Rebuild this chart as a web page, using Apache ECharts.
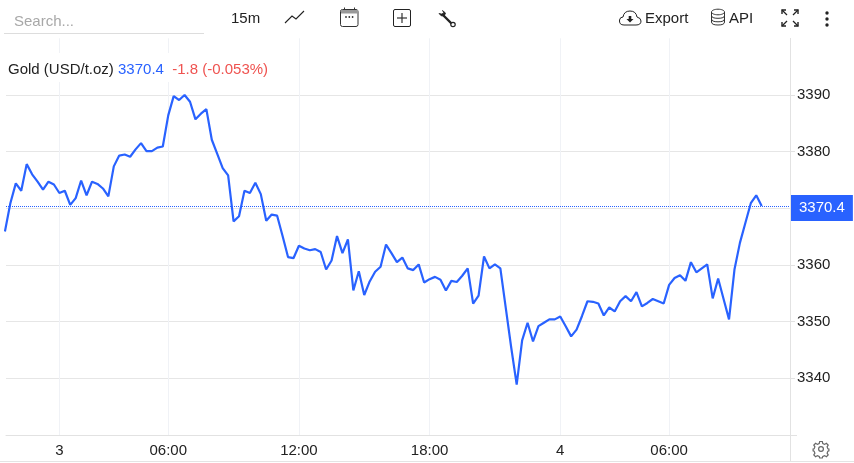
<!DOCTYPE html>
<html>
<head>
<meta charset="utf-8">
<style>html,body{margin:0;padding:0;background:#fff}#c{width:854px;height:463px}</style>
<script src="https://cdn.jsdelivr.net/npm/echarts@6/dist/echarts.min.js"></script>
</head>
<body>
<div id="c"></div>
<script>
const prices = [3365.9,3370.9,3374.4,3373.1,3377.8,3376.0,3374.7,3373.3,3374.7,3374.2,
3372.7,3373.1,3370.6,3371.8,3374.9,3372.3,3374.7,3374.3,3373.5,3372.1,
3377.4,3379.3,3379.5,3379.1,3380.4,3381.5,3380.1,3380.1,3380.7,3380.9,
3386.4,3389.8,3389.1,3390.0,3388.8,3385.7,3386.7,3387.5,3382.1,3379.6,
3377.1,3375.8,3367.7,3368.6,3373.1,3372.7,3374.5,3372.5,3367.8,3368.9,
3368.7,3365.1,3361.4,3361.2,3363.4,3362.9,3362.6,3362.8,3362.3,3359.2,
3360.8,3365.1,3362.1,3364.5,3355.5,3358.9,3354.7,3357.1,3358.8,3359.7,
3363.6,3362.1,3360.5,3361.3,3359.4,3359.1,3360.1,3356.9,3357.5,3357.9,
3357.4,3355.5,3357.2,3357.0,3358.1,3359.4,3353.2,3354.6,3361.5,3359.4,
3360.1,3359.4,3352.4,3345.4,3338.9,3346.7,3349.8,3346.5,3349.2,3349.8,
3350.4,3350.4,3350.9,3349.2,3347.4,3348.6,3351.0,3353.6,3353.5,3353.2,
3351.1,3352.5,3351.8,3353.6,3354.5,3353.6,3355.2,3352.7,3353.3,3354.0,
3353.6,3353.2,3356.5,3357.7,3358.2,3357.2,3360.5,3358.7,3359.4,3360.1,
3354.1,3357.6,3354.0,3350.4,3359.2,3363.9,3367.4,3370.9,3372.3,3370.4];
const xTickIndex = [10,30,54,78,102,122];
const xTickLabels = ['3','06:00','12:00','18:00','4','06:00'];
const yTicks = [3340,3350,3360,3370,3380,3390];
const lastPrice = 3370.4;
const instrument = 'Gold (USD/t.oz)';
const priceText = '3370.4';
const changeText = '-1.8 (-0.053%)';

const FONT = '"Liberation Sans", Arial, sans-serif';
const INK = '#222';
const BLUE = '#2962ff';
const AXIS = '#e2e2e2';

function stroke(w, c) { return { stroke: c || INK, lineWidth: w || 1, fill: null }; }
function line(x1, y1, x2, y2, c, w) {
  return { type: 'line', silent: true, shape: { x1, y1, x2, y2 }, style: stroke(w, c) };
}
function poly(points, w, c) {
  return { type: 'polyline', silent: true, shape: { points }, style: stroke(w, c) };
}
function txt(x, y, text, color, size) {
  return { type: 'text', silent: true, x, y, style: { text, fill: color || INK,
    font: (size || 15) + 'px ' + FONT, verticalAlign: 'middle', align: 'left' } };
}
function dot(cx, cy, r, c) {
  return { type: 'circle', silent: true, shape: { cx, cy, r }, style: { fill: c || INK } };
}
let shapeCount = 0;
function svgPath(d, st) {
  const name = 'iconShape' + (++shapeCount);
  echarts.graphic.registerShape(name, echarts.graphic.extendPath(d, {}));
  return { type: name, silent: true, style: st };
}

const chrome = [
  // search box
  txt(14, 21.5, 'Search...', '#a8a8a8', 15),
  line(4, 33.5, 204, 33.5, '#dddddd'),
  txt(231, 18.5, '15m', INK, 15),
  // line-type icon
  poly([[285, 23], [292, 16], [296, 19], [304, 11]], 1.1),
  // calendar icon
  { type: 'rect', silent: true, shape: { x: 340.5, y: 9.5, width: 17.5, height: 17, r: 2 }, style: stroke(1, '#333') },
  { type: 'rect', silent: true, shape: { x: 341, y: 10, width: 17, height: 3.5 }, style: { fill: '#999' } },
  line(344.5, 7.5, 344.5, 10, '#333'), line(354.5, 7.5, 354.5, 10, '#333'),
  dot(346, 17, .9, '#333'), dot(349.3, 17, .9, '#333'), dot(352.6, 17, .9, '#333'),
  // plus-in-box icon
  { type: 'rect', silent: true, shape: { x: 393.5, y: 9.5, width: 17, height: 17, r: 1.5 }, style: stroke(1, '#222') },
  line(402, 13, 402, 23, '#333', 1.2), line(397, 18, 407, 18, '#333', 1.2),
  // wrench icon
  line(443, 15, 452, 24, '#222', 2.4),
  svgPath('M439 13.5 L441.5 16 L444.5 15.5 L445.5 13 L442.5 10.5 L444 13 L441.5 14 Z', { fill: '#222', stroke: '#222', lineWidth: .8 }),
  { type: 'circle', silent: true, shape: { cx: 453, cy: 24.5, r: 2.2 }, style: { fill: '#fff', stroke: '#222', lineWidth: 1.2 } },
  // export cloud
  svgPath('M624 25 Q619 25 619.5 20 Q620 17 623 17 Q624 11 630 11 Q636 11 637 17 Q641 18 641 21 Q641 25 636 25 Z', stroke(1, '#222')),
  svgPath('M628.7 16 H631.3 V19 H633.5 L630 22.5 L626.5 19 H628.7 Z', { fill: '#222' }),
  txt(645, 18.5, 'Export', INK, 15),
  // API database
  { type: 'ellipse', silent: true, shape: { cx: 718, cy: 12, rx: 6.5, ry: 2.8 }, style: stroke(1, '#333') },
  svgPath('M711.5 12 V22 Q711.5 25 718 25 Q724.5 25 724.5 22 V12', stroke(1, '#333')),
  svgPath('M711.5 15.5 Q711.5 18.3 718 18.3 Q724.5 18.3 724.5 15.5', stroke(1, '#333')),
  svgPath('M711.5 19 Q711.5 21.8 718 21.8 Q724.5 21.8 724.5 19', stroke(1, '#333')),
  txt(729, 18.5, 'API', INK, 15),
  // fullscreen arrows
  poly([[782, 14], [782, 10], [786, 10]], 1.4), line(782, 10, 787, 15, INK, 1.2),
  poly([[794, 10], [798, 10], [798, 14]], 1.4), line(798, 10, 793, 15, INK, 1.2),
  poly([[782, 22], [782, 26], [786, 26]], 1.4), line(782, 26, 787, 21, INK, 1.2),
  poly([[794, 26], [798, 26], [798, 22]], 1.4), line(798, 26, 793, 21, INK, 1.2),
  // menu dots
  dot(827, 13, 1.7), dot(827, 19, 1.7), dot(827, 25, 1.7),
  // instrument header
  { type: 'rect', silent: true, z: 90, shape: { x: 6, y: 53, width: 274, height: 29 }, style: { fill: '#fff' } },
  { type: 'text', silent: true, z: 100, x: 8, y: 69.5, style: {
    text: '{a|' + instrument + '} {b|' + priceText + '}  {c|' + changeText + '}',
    font: '15px ' + FONT, verticalAlign: 'middle',
    rich: { a: { fill: INK, font: '15px ' + FONT }, b: { fill: BLUE, font: '15px ' + FONT }, c: { fill: '#ef5350', font: '15px ' + FONT } }
  } },
  // frame bits
  line(790.5, 38, 790.5, 461, AXIS),
  line(790, 435.5, 797, 435.5, AXIS),
  line(0, 461.5, 854, 461.5, '#e4e4e4'),
  // settings gear
  { type: 'circle', silent: true, shape: { cx: 821, cy: 449, r: 2.4 }, style: stroke(1.2, '#666') },
  svgPath('M819.7 441.5 H822.3 L822.8 443.6 L824.6 444.4 L826.4 443.3 L828.2 445.1 L827.1 446.9 L827.9 448.7 L828.9 449 V450.9 L827.9 451.3 L827.1 453.1 L828.2 454.9 L826.4 456.7 L824.6 455.6 L822.8 456.4 L822.3 458 H819.7 L819.2 456.4 L817.4 455.6 L815.6 456.7 L813.8 454.9 L814.9 453.1 L814.1 451.3 L813.1 450.9 V449 L814.1 448.7 L814.9 446.9 L813.8 445.1 L815.6 443.3 L817.4 444.4 L819.2 443.6 Z', stroke(1.2, '#666'))
];

const chart = echarts.init(document.getElementById('c'), null, { renderer: 'canvas' });
chart.setOption({
  animation: false,
  backgroundColor: '#fff',
  grid: { left: 6, right: 64, top: 38.3, bottom: 28, containLabel: false },
  xAxis: {
    type: 'value', min: 0.2, max: 144.2,
    axisLine: { show: true, onZero: false, lineStyle: { color: AXIS } },
    axisTick: { show: false, customValues: xTickIndex },
    axisLabel: {
      customValues: xTickIndex, margin: 8, color: '#222', fontSize: 15, fontFamily: FONT,
      showMinLabel: true, showMaxLabel: true, hideOverlap: false,
      formatter: v => xTickLabels[xTickIndex.indexOf(v)]
    },
    splitLine: { show: true, lineStyle: { color: '#f0f2f6', width: 1 } }
  },
  yAxis: {
    type: 'value', position: 'right', min: 3330, max: 3400,
    axisLine: { show: false },
    axisTick: { show: true, length: 5, customValues: yTicks, lineStyle: { color: AXIS } },
    axisLabel: { customValues: yTicks, margin: 7, color: '#222', fontSize: 15, fontFamily: FONT, hideOverlap: false, formatter: v => String(v) },
    splitLine: { show: true, lineStyle: { color: '#e6e6e6', width: 1 } }
  },
  series: [{
    type: 'line',
    data: prices.map((v, i) => [i, v]),
    showSymbol: false,
    clip: true,
    lineStyle: { color: BLUE, width: 2.2 },
    itemStyle: { color: BLUE },
    markLine: {
      silent: true, symbol: 'none', animation: false,
      lineStyle: { color: BLUE, type: [1, 1], width: 1 },
      data: [{ yAxis: lastPrice }],
      label: {
        show: true, position: 'end', distance: 0,
        formatter: lastPrice.toFixed(1),
        color: '#fff', fontSize: 15, fontFamily: FONT,
        backgroundColor: BLUE, padding: [6, 8, 5, 8], offset: [1, 2]
      }
    }
  }],
  graphic: { elements: chrome }
});
</script>
</body>
</html>
